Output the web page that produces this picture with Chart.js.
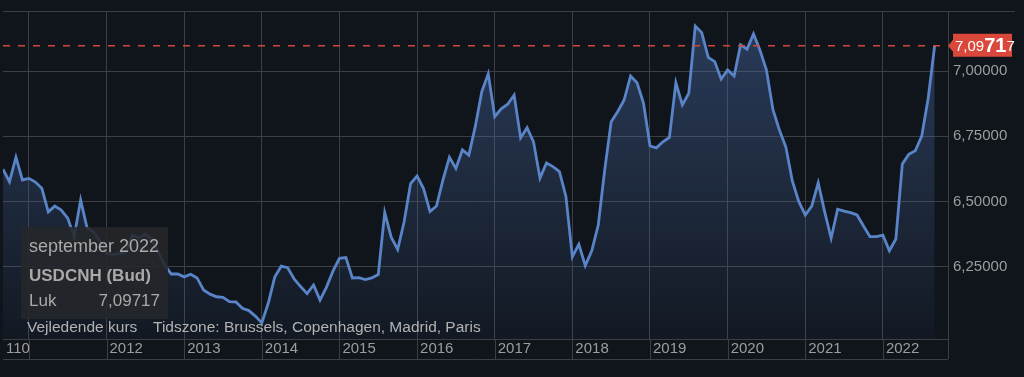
<!DOCTYPE html>
<html>
<head>
<meta charset="utf-8">
<script src="https://cdn.jsdelivr.net/npm/chart.js@4.4.1/dist/chart.umd.min.js"></script>
<style>
  html, body { margin: 0; padding: 0; background: #10151c; }
  #wrap { width: 1024px; height: 377px; }
</style>
</head>
<body>
<div id="wrap"><canvas id="chart" width="1024" height="377"></canvas></div>
<script>
const FONT = '"Liberation Sans", Arial, Helvetica, sans-serif';

// monthly closes USDCNH, september 2010 .. september 2022 (x = month index)
const firstYear = 2010, firstMonth = 9;
const closes = [
  6.624, 6.576, 6.670, 6.583, 6.589, 6.575, 6.551, 6.461, 6.483, 6.468,
  6.437, 6.366, 6.506, 6.399, 6.385, 6.349, 6.303, 6.297, 6.301, 6.307,
  6.372, 6.361, 6.376, 6.357, 6.307, 6.257, 6.223, 6.223, 6.212, 6.222,
  6.208, 6.162, 6.146, 6.136, 6.134, 6.117, 6.116, 6.092, 6.083, 6.062,
  6.036, 6.111, 6.211, 6.253, 6.247, 6.204, 6.175, 6.148, 6.181, 6.123,
  6.173, 6.234, 6.283, 6.286, 6.208, 6.209, 6.202, 6.208, 6.221, 6.458,
  6.364, 6.317, 6.423, 6.569, 6.598, 6.550, 6.462, 6.483, 6.583, 6.670,
  6.627, 6.698, 6.678, 6.788, 6.921, 6.989, 6.825, 6.855, 6.873, 6.908,
  6.744, 6.783, 6.729, 6.590, 6.648, 6.634, 6.615, 6.521, 6.289, 6.337,
  6.255, 6.312, 6.410, 6.621, 6.806, 6.844, 6.889, 6.981, 6.955, 6.876,
  6.713, 6.706, 6.729, 6.746, 6.955, 6.870, 6.915, 7.172, 7.147, 7.052,
  7.036, 6.969, 7.004, 6.981, 7.100, 7.084, 7.142, 7.080, 7.004, 6.853,
  6.774, 6.709, 6.579, 6.500, 6.449, 6.483, 6.572, 6.461, 6.360, 6.471,
  6.464, 6.458, 6.449, 6.407, 6.366, 6.366, 6.372, 6.312, 6.357, 6.644,
  6.681, 6.695, 6.751, 6.896, 7.09717
];
const years = [2011, 2012, 2013, 2014, 2015, 2016, 2017, 2018, 2019, 2020, 2021, 2022];
const yearLabels = ['', '2012', '2013', '2014', '2015', '2016', '2017', '2018', '2019', '2020', '2021', '2022'];
const yTicks = [6.25, 6.5, 6.75, 7.0];
const lastClose = closes[closes.length - 1];

function monthIndex(year, month) {
  return (year - firstYear) * 12 + (month - firstMonth);
}

const GRID = '#3d3f44';
const LABEL = '#9d9d9d';

const overlay = {
  id: 'overlay',
  beforeDatasetsDraw(chart) {
    const c = chart.ctx, a = chart.chartArea, xs = chart.scales.x;
    const bandBottom = a.bottom + 20;
    c.save();
    c.strokeStyle = GRID;
    c.lineWidth = 1;
    c.beginPath();
    c.moveTo(a.left, a.top + 0.5); c.lineTo(1015, a.top + 0.5);
    c.moveTo(a.left, a.bottom + 0.5); c.lineTo(a.right, a.bottom + 0.5);
    c.moveTo(a.left, bandBottom + 0.5); c.lineTo(a.right, bandBottom + 0.5);
    c.moveTo(a.right + 0.5, a.top); c.lineTo(a.right + 0.5, bandBottom);
    xs.ticks.forEach((t, i) => {
      const px = Math.round(xs.getPixelForTick(i)) + 0.5;
      c.moveTo(px, a.bottom); c.lineTo(px, bandBottom);
    });
    c.stroke();
    c.restore();
  },
  afterDatasetsDraw(chart) {
    const c = chart.ctx, a = chart.chartArea, ys = chart.scales.y;
    const py = ys.getPixelForValue(lastClose);
    c.save();
    c.strokeStyle = '#c9493d';
    c.lineWidth = 1.5;
    c.setLineDash([7, 8]);
    c.beginPath();
    c.moveTo(a.left, py); c.lineTo(a.right, py);
    c.stroke();
    c.restore();
  },
  afterDraw(chart) {
    const c = chart.ctx, a = chart.chartArea, ys = chart.scales.y;
    const py = ys.getPixelForValue(lastClose);
    c.save();

    // price tag on the right axis
    c.fillStyle = '#d9483b';
    c.beginPath();
    c.moveTo(a.right, py);
    c.lineTo(a.right + 5, py - 6);
    c.lineTo(a.right + 5, py - 12);
    c.lineTo(1012, py - 12);
    c.lineTo(1012, py + 11);
    c.lineTo(a.right + 5, py + 11);
    c.lineTo(a.right + 5, py + 6);
    c.closePath();
    c.fill();
    c.fillStyle = '#ffffff';
    c.textBaseline = 'middle';
    c.textAlign = 'left';
    let tx = a.right + 7;
    c.font = '15px ' + FONT;
    c.fillText('7,09', tx, py + 1); tx += c.measureText('7,09').width;
    c.font = 'bold 20px ' + FONT;
    c.fillText('71', tx, py + 1); tx += c.measureText('71').width;
    c.font = '15px ' + FONT;
    c.fillText('7', tx, py + 1);

    // clipped first year label
    c.fillStyle = LABEL;
    c.font = '15px ' + FONT;
    c.fillText('110', 6, a.bottom + 10);

    // footnote
    c.fillStyle = '#b3b3b3';
    c.font = '15.5px ' + FONT;
    c.fillText('Vejledende kurs', 27, 328);
    c.fillText('Tidszone: Brussels, Copenhagen, Madrid, Paris', 153, 328);

    // static tooltip box
    c.fillStyle = 'rgba(38, 39, 42, 0.88)';
    c.fillRect(21, 227, 147, 92);
    c.fillStyle = '#a9a9a9';
    c.font = '18px ' + FONT;
    c.fillText('september 2022', 29, 247);
    c.font = 'bold 17px ' + FONT;
    c.fillText('USDCNH (Bud)', 29, 276);
    c.font = '17px ' + FONT;
    c.fillText('Luk', 29, 301);
    c.textAlign = 'right';
    c.fillText(lastClose.toFixed(5).replace('.', ','), 160, 301);
    c.restore();
  }
};

new Chart(document.getElementById('chart'), {
  type: 'line',
  data: {
    datasets: [{
      data: closes.map((v, i) => ({ x: i, y: v })),
      borderColor: '#5a84c8',
      borderWidth: 2.8,
      pointRadius: 0,
      tension: 0,
      fill: 'start',
      backgroundColor: (ctx) => {
        const area = ctx.chart.chartArea;
        if (!area) return 'rgba(76,110,170,0.2)';
        const g = ctx.chart.ctx.createLinearGradient(0, area.top, 0, area.bottom);
        g.addColorStop(0, 'rgba(76,110,170,0.45)');
        g.addColorStop(1, 'rgba(76,110,170,0.05)');
        return g;
      }
    }]
  },
  options: {
    responsive: false,
    animation: false,
    devicePixelRatio: 1,
    layout: { padding: { left: 3, top: 11, right: 0, bottom: 0 } },
    plugins: { legend: { display: false }, tooltip: { enabled: false } },
    scales: {
      x: {
        type: 'linear',
        bounds: 'data',
        min: 0,
        max: 146.06,
        afterBuildTicks: (s) => { s.ticks = years.map(y => ({ value: monthIndex(y, 1) })); },
        afterFit: (s) => { s.height = 38; s.paddingLeft = 0; s.paddingRight = 0; },
        ticks: {
          callback: (v, i) => yearLabels[i],
          align: 'start',
          labelOffset: 3,
          padding: 1,
          autoSkip: false,
          maxRotation: 0,
          color: LABEL,
          font: { family: FONT, size: 15 }
        },
        grid: { color: GRID, lineWidth: 1, drawTicks: false },
        border: { display: false }
      },
      y: {
        position: 'right',
        min: 5.9743,
        max: 7.2297,
        afterBuildTicks: (s) => { s.ticks = yTicks.map(v => ({ value: v })); },
        afterFit: (s) => { s.width = 76; s.paddingTop = 0; s.paddingBottom = 0; },
        ticks: {
          callback: (v) => v.toFixed(5).replace('.', ','),
          padding: 5,
          color: LABEL,
          font: { family: FONT, size: 15 }
        },
        grid: { color: GRID, lineWidth: 1, drawTicks: false },
        border: { display: false }
      }
    }
  },
  plugins: [overlay]
});
</script>
</body>
</html>
